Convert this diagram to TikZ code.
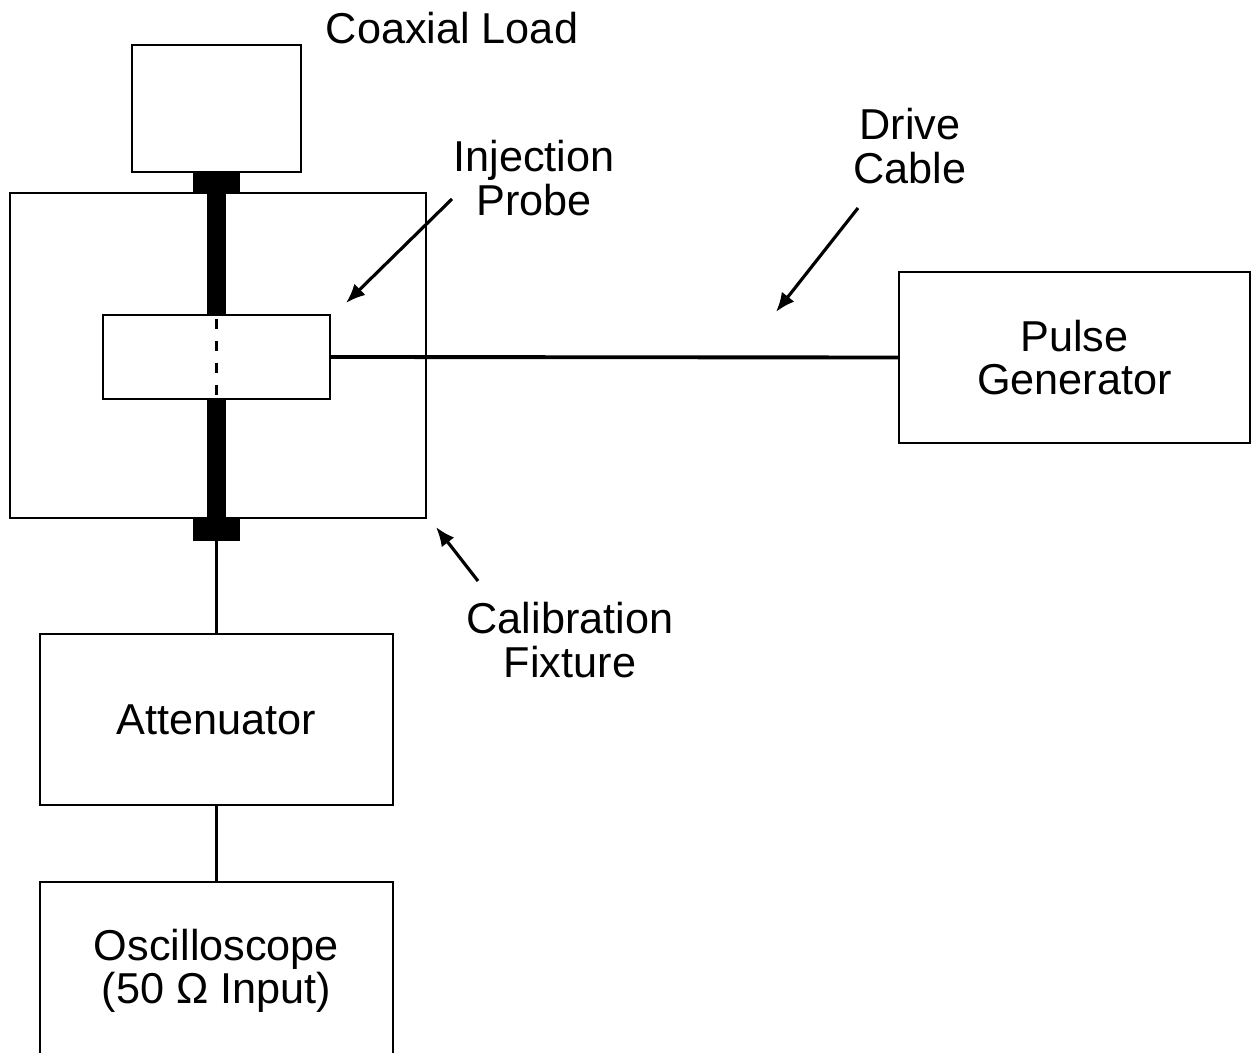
\documentclass[tikz,border=0pt]{standalone}
\usepackage{fontspec}
\setmainfont{Liberation Sans}
\usetikzlibrary{arrows.meta,positioning,calc}

\begin{document}
\begin{tikzpicture}[x=0.02cm, y=-0.02cm, every node/.style={font=\fontsize{24.6}{24.6}\selectfont}]
    \tikzstyle{unit} = [rectangle, draw, line width=1.3pt, align=center, inner sep=0pt]
    \tikzstyle{plug} = [rectangle, fill=black, inner sep=0pt, minimum width=0.94cm]
    \tikzstyle{cable} = [line width=2.2pt]
    \tikzstyle{pointer} = [line width=1.8pt, -{Latex[length=11pt, width=9pt]}]
    \tikzstyle{note} = [align=center]

    \clip (0,0) rectangle (1252,1053);

    % fixture with coaxial load on top
    \node[unit, minimum width=3.38cm, minimum height=2.54cm] (load) at (216.5,108.5) {};
    \node[unit, minimum width=8.32cm, minimum height=6.5cm] (fixture) at (218,355.5) {};
    \node[plug, minimum height=0.42cm] (topplug) at (216.5,182.5) {};
    \node[plug, minimum height=0.46cm] (botplug) at (216.5,529.5) {};
    \draw[line width=0.38cm] (topplug.south) -- (botplug.north);

    % injection probe around the conductor
    \node[unit, fill=white, minimum width=4.54cm, minimum height=1.68cm] (probe) at (216.5,357) {};
    \draw[line width=1.5pt, dash pattern=on 5.7pt off 6.8pt, dash phase=-2.8pt] (probe.north) -- (probe.south);

    \node[unit, minimum width=7.06cm, minimum height=3.42cm] (atten) at (216.5,719.5) {Attenuator};
    \node[unit, minimum width=7.06cm, minimum height=3.56cm] (osc) at (216.5,971) {Oscilloscope\\(50 Ω Input)};
    \node[unit, minimum width=7.02cm, minimum height=3.42cm] (pulse) at (1074.5,357.5) {Pulse\\Generator};

    % labels
    \node (loadtext) at (452,28) {Coaxial Load};
    \node[note] (probetext) at (534,178) {Injection\\Probe};
    \node[note] (cabletext) at (910,146) {Drive\\Cable};
    \node[note] (fixturetext) at (570,640) {Calibration\\Fixture};

    % cables
    \draw[cable] (probe.east) -- (pulse.west);
    \draw[cable] (botplug.south) -- (atten.north);
    \draw[cable] (atten.south) -- (osc.north);

    % pointers
    \coordinate (probetail) at (452,199);
    \coordinate (probetip) at (346,303);
    \coordinate (cabletail) at (858,208);
    \coordinate (cabletip) at (776,312);
    \coordinate (fixturetail) at (478,581);
    \coordinate (fixturetip) at (436,527);
    \draw[pointer] (probetail) -- (probetip);
    \draw[pointer] (cabletail) -- (cabletip);
    \draw[pointer] (fixturetail) -- (fixturetip);
\end{tikzpicture}
\end{document}
